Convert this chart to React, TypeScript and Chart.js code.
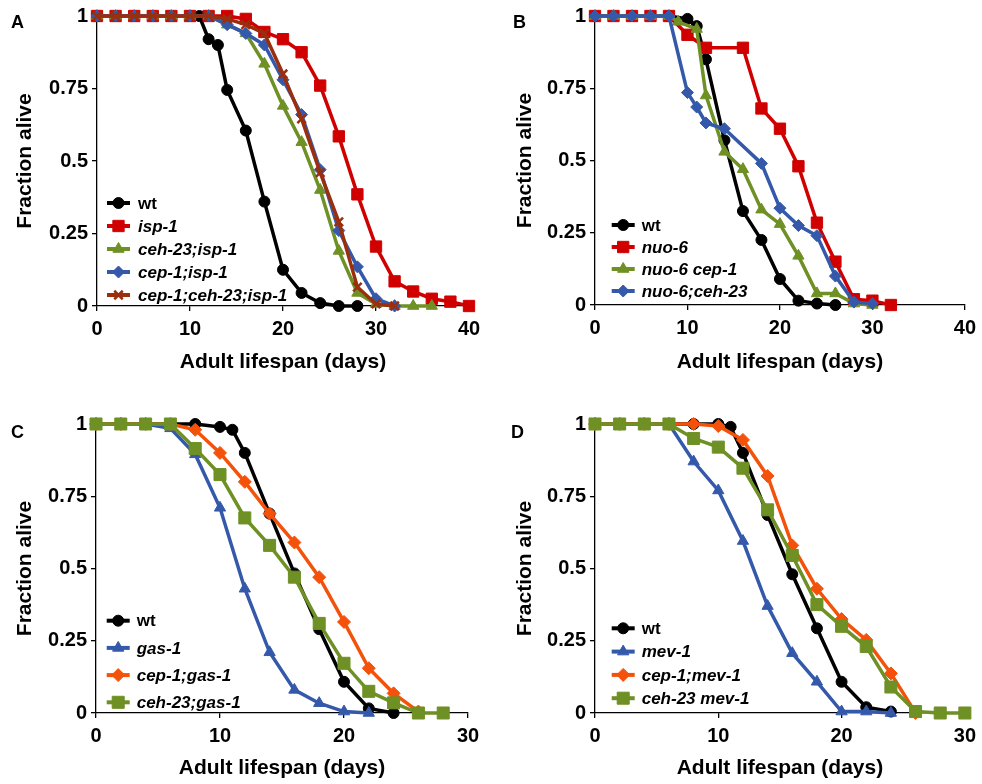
import React, { useEffect, useRef } from 'react';
import { Chart, registerables } from 'chart.js';
import { drawPoint } from 'chart.js/helpers';

Chart.register(...registerables);

// ---------- Panel A ----------
const aWtDays = [0, 2, 4, 6, 8, 10, 11, 12, 13, 14, 16, 18, 20, 22, 24, 26, 28];
const aWt = [1, 1, 1, 1, 1, 1, 1, 0.92, 0.9, 0.745, 0.605, 0.36, 0.125, 0.045, 0.01, 0, 0];
const aIspDays = [0, 2, 4, 6, 8, 10, 12, 14, 16, 18, 20, 22, 24, 26, 28, 30, 32, 34, 36, 38, 40];
const aIsp = [1, 1, 1, 1, 1, 1, 1, 1, 0.99, 0.945, 0.92, 0.875, 0.76, 0.585, 0.385, 0.205, 0.085, 0.05, 0.025, 0.015, 0];
const aCehIspDays = [0, 2, 4, 6, 8, 10, 12, 14, 16, 18, 20, 22, 24, 26, 28, 30, 32, 34, 36];
const aCehIsp = [1, 1, 1, 1, 1, 1, 1, 0.97, 0.94, 0.835, 0.69, 0.565, 0.4, 0.19, 0.045, 0.007, 0, 0, 0];
const aCepIspDays = [0, 2, 4, 6, 8, 10, 12, 14, 16, 18, 20, 22, 24, 26, 28, 30, 32];
const aCepIsp = [1, 1, 1, 1, 1, 1, 1, 0.97, 0.94, 0.9, 0.78, 0.66, 0.47, 0.26, 0.135, 0.025, 0];
const aCepCehIspDays = [0, 2, 4, 6, 8, 10, 12, 14, 16, 18, 20, 22, 24, 26, 28, 30, 32];
const aCepCehIsp = [1, 1, 1, 1, 1, 1, 1, 0.99, 0.97, 0.94, 0.8, 0.645, 0.46, 0.29, 0.065, 0.007, 0];

// ---------- Panel B ----------
const bWtDays = [0, 2, 4, 6, 8, 10, 11, 12, 14, 16, 18, 20, 22, 24, 26];
const bWt = [1, 1, 1, 1, 1, 0.99, 0.965, 0.85, 0.57, 0.325, 0.225, 0.09, 0.015, 0.005, 0];
const bNuoDays = [0, 2, 4, 6, 8, 10, 12, 16, 18, 20, 22, 24, 26, 28, 30, 32];
const bNuo = [1, 1, 1, 1, 1, 0.935, 0.89, 0.89, 0.68, 0.61, 0.48, 0.285, 0.15, 0.02, 0.015, 0];
const bNuoCepDays = [0, 2, 4, 6, 8, 9, 11, 12, 14, 16, 18, 20, 22, 24, 26, 28, 30];
const bNuoCep = [1, 1, 1, 1, 1, 0.98, 0.955, 0.725, 0.53, 0.47, 0.33, 0.28, 0.17, 0.04, 0.04, 0.005, 0];
const bNuoCehDays = [0, 2, 4, 6, 8, 10, 11, 12, 14, 18, 20, 22, 24, 26, 28, 30];
const bNuoCeh = [1, 1, 1, 1, 1, 0.735, 0.685, 0.63, 0.61, 0.49, 0.335, 0.275, 0.24, 0.1, 0.01, 0.005];

// ---------- Panel C ----------
const cWtDays = [0, 2, 4, 6, 8, 10, 11, 12, 14, 16, 18, 20, 22, 24];
const cWt = [1, 1, 1, 1, 1, 0.99, 0.98, 0.9, 0.69, 0.483, 0.29, 0.108, 0.016, 0];
const cGasDays = [0, 2, 4, 6, 8, 10, 12, 14, 16, 18, 20, 22];
const cGas = [1, 1, 1, 0.985, 0.895, 0.71, 0.43, 0.21, 0.08, 0.034, 0.005, 0];
const cCepGasDays = [0, 2, 4, 6, 8, 10, 12, 14, 16, 18, 20, 22, 24, 26];
const cCepGas = [1, 1, 1, 1, 0.98, 0.9, 0.8, 0.69, 0.59, 0.47, 0.315, 0.155, 0.068, 0.005];
const cCehGasDays = [0, 2, 4, 6, 8, 10, 12, 14, 16, 18, 20, 22, 24, 26, 28];
const cCehGas = [1, 1, 1, 1, 0.915, 0.825, 0.675, 0.58, 0.47, 0.31, 0.172, 0.075, 0.035, 0, 0];

// ---------- Panel D ----------
const dWtDays = [0, 2, 4, 6, 8, 10, 11, 12, 14, 16, 18, 20, 22, 24];
const dWt = [1, 1, 1, 1, 1, 1, 0.99, 0.9, 0.685, 0.48, 0.293, 0.108, 0.02, 0.005];
const dMevDays = [0, 2, 4, 6, 8, 10, 12, 14, 16, 18, 20, 22, 24];
const dMev = [1, 1, 1, 1, 0.87, 0.77, 0.595, 0.37, 0.207, 0.108, 0.005, 0.005, 0];
const dCepMevDays = [0, 2, 4, 6, 8, 10, 12, 14, 16, 18, 20, 22, 24, 26];
const dCepMev = [1, 1, 1, 1, 1, 0.993, 0.945, 0.82, 0.58, 0.43, 0.325, 0.253, 0.137, 0];
const dCehMevDays = [0, 2, 4, 6, 8, 10, 12, 14, 16, 18, 20, 22, 24, 26, 28, 30];
const dCehMev = [1, 1, 1, 1, 0.95, 0.92, 0.847, 0.703, 0.545, 0.375, 0.3, 0.23, 0.09, 0.005, 0, 0];

const yTickLabels = ['0', '0.25', '0.5', '0.75', '1'];
const xTitle = 'Adult lifespan (days)';
const yTitle = 'Fraction alive';

const FONT = "'Liberation Sans', Arial, Helvetica, sans-serif";

const BLACK = '#000000';
const RED = '#D00000';
const GREEN = '#6E9024';
const BLUE = '#3559AA';
const BROWN = '#9A2F0F';
const ORANGE = '#F4520A';

type Series = {
  label: string;
  days: number[];
  values: number[];
  color: string;
  style: string;
  radius: number;
  bw?: number;
  italic: boolean;
};

type PanelCfg = {
  letter: string;
  left: number;
  top: number;
  xMax: number;
  padTop: number;
  padRight: number;
  yW: number;
  xH: number;
  xTitlePad: number;
  yTitlePad: number;
  legX: number;
  legTextX: number;
  legY0: number;
  legDy: number;
  letterX: number;
  letterY: number;
  series: Series[];
};

const panels: PanelCfg[] = [
  {
    letter: 'A', left: 0, top: 0, xMax: 40, padTop: 15, padRight: 22, yW: 97, xH: 86,
    xTitlePad: 17.4, yTitlePad: 12.4, legX: 10, legTextX: 41, legY0: 203, legDy: 23,
    letterX: 11, letterY: 12,
    series: [
      { label: 'wt', days: aWtDays, values: aWt, color: BLACK, style: 'circle', radius: 5.5, italic: false },
      { label: 'isp-1', days: aIspDays, values: aIsp, color: RED, style: 'rect', radius: 8, italic: true },
      { label: 'ceh-23;isp-1', days: aCehIspDays, values: aCehIsp, color: GREEN, style: 'triangle', radius: 6.5, italic: true },
      { label: 'cep-1;isp-1', days: aCepIspDays, values: aCepIsp, color: BLUE, style: 'rectRot', radius: 6, italic: true },
      { label: 'cep-1;ceh-23;isp-1', days: aCepCehIspDays, values: aCepCehIsp, color: BROWN, style: 'crossRot', radius: 6, bw: 2.5, italic: true },
    ],
  },
  {
    letter: 'B', left: 491, top: 0, xMax: 40, padTop: 15, padRight: 16, yW: 104, xH: 87,
    xTitlePad: 17.4, yTitlePad: 21.4, legX: 16.7, legTextX: 46.7, legY0: 225, legDy: 22,
    letterX: 22, letterY: 12,
    series: [
      { label: 'wt', days: bWtDays, values: bWt, color: BLACK, style: 'circle', radius: 5.5, italic: false },
      { label: 'nuo-6', days: bNuoDays, values: bNuo, color: RED, style: 'rect', radius: 8, italic: true },
      { label: 'nuo-6 cep-1', days: bNuoCepDays, values: bNuoCep, color: GREEN, style: 'triangle', radius: 6.5, italic: true },
      { label: 'nuo-6;ceh-23', days: bNuoCehDays, values: bNuoCeh, color: BLUE, style: 'rectRot', radius: 6, italic: true },
    ],
  },
  {
    letter: 'C', left: 0, top: 392, xMax: 30, padTop: 32, padRight: 23, yW: 96, xH: 71,
    xTitlePad: 3.4, yTitlePad: 12.4, legX: 10.7, legTextX: 40.7, legY0: 228.7, legDy: 27.2,
    letterX: 11, letterY: 30,
    series: [
      { label: 'wt', days: cWtDays, values: cWt, color: BLACK, style: 'circle', radius: 5.5, italic: false },
      { label: 'gas-1', days: cGasDays, values: cGas, color: BLUE, style: 'triangle', radius: 6.5, italic: true },
      { label: 'cep-1;gas-1', days: cCepGasDays, values: cCepGas, color: ORANGE, style: 'rectRot', radius: 6.5, italic: true },
      { label: 'ceh-23;gas-1', days: cCehGasDays, values: cCehGas, color: GREEN, style: 'rect', radius: 8.5, italic: true },
    ],
  },
  {
    letter: 'D', left: 491, top: 392, xMax: 30, padTop: 32, padRight: 17, yW: 104, xH: 71,
    xTitlePad: 3.4, yTitlePad: 21.4, legX: 16.7, legTextX: 46.7, legY0: 236.3, legDy: 23.3,
    letterX: 20, letterY: 30,
    series: [
      { label: 'wt', days: dWtDays, values: dWt, color: BLACK, style: 'circle', radius: 5.5, italic: false },
      { label: 'mev-1', days: dMevDays, values: dMev, color: BLUE, style: 'triangle', radius: 6.5, italic: true },
      { label: 'cep-1;mev-1', days: dCepMevDays, values: dCepMev, color: ORANGE, style: 'rectRot', radius: 6.5, italic: true },
      { label: 'ceh-23 mev-1', days: dCehMevDays, values: dCehMev, color: GREEN, style: 'rect', radius: 8.5, italic: true },
    ],
  },
];

const legendPlugin = {
  id: 'insideLegend',
  afterDraw(chart: any, _args: any, opts: any) {
    const ctx = chart.ctx;
    const area = chart.chartArea;
    const list: Series[] = opts.series;
    list.forEach((s, i) => {
      const y = opts.y0 + i * opts.dy;
      const x0 = area.left + opts.lineX;
      const x1 = x0 + 23;
      ctx.save();
      ctx.strokeStyle = s.color;
      ctx.fillStyle = s.color;
      ctx.lineWidth = 4;
      ctx.lineCap = 'butt';
      ctx.beginPath();
      ctx.moveTo(x0, y);
      ctx.lineTo(x1, y);
      ctx.stroke();
      ctx.lineWidth = s.bw ?? 1;
      drawPoint(ctx, { pointStyle: s.style as any, radius: s.radius, rotation: 0, borderWidth: s.bw ?? 1 } as any, (x0 + x1) / 2, y);
      ctx.fillStyle = '#000';
      ctx.font = `${s.italic ? 'italic ' : ''}bold 17px ${FONT}`;
      ctx.textBaseline = 'middle';
      ctx.textAlign = 'left';
      ctx.fillText(s.label, area.left + opts.textX, y + 1);
      ctx.restore();
    });
  },
};

function Panel({ cfg }: { cfg: PanelCfg }) {
  const ref = useRef<HTMLCanvasElement>(null);
  useEffect(() => {
    const n = cfg.series.length;
    const tickFont = { family: FONT, size: 20, weight: 'bold' as const };
    const titleFont = { family: FONT, size: 21, weight: 'bold' as const };
    const chart = new Chart(ref.current!, {
      type: 'line',
      data: {
        datasets: cfg.series.map((s, i) => ({
          label: s.label,
          data: s.days.map((d, j) => ({ x: d, y: s.values[j] })),
          borderColor: s.color,
          backgroundColor: s.color,
          pointBackgroundColor: s.color,
          pointBorderColor: s.color,
          pointStyle: s.style as any,
          pointRadius: s.radius,
          pointBorderWidth: s.bw ?? 1,
          borderWidth: 3.5,
          tension: 0,
          fill: false,
          clip: false as any,
          order: n - i,
        })),
      },
      options: {
        animation: false,
        responsive: false,
        events: [],
        layout: { padding: { left: 0, top: cfg.padTop, right: cfg.padRight, bottom: 0 } },
        plugins: {
          legend: { display: false },
          tooltip: { enabled: false },
          insideLegend: {
            series: cfg.series,
            lineX: cfg.legX,
            textX: cfg.legTextX,
            y0: cfg.legY0,
            dy: cfg.legDy,
          },
        } as any,
        scales: {
          x: {
            type: 'linear',
            min: 0,
            max: cfg.xMax,
            ticks: { stepSize: 10, font: tickFont, color: '#000', padding: 6, maxRotation: 0 },
            grid: { drawOnChartArea: false, drawTicks: true, tickLength: 5, color: '#000', lineWidth: 1.3 },
            border: { display: true, color: '#000', width: 1.3 },
            title: { display: true, text: xTitle, font: titleFont, color: '#000', padding: { top: 0, bottom: cfg.xTitlePad } },
            afterFit: (s: any) => { s.height = cfg.xH; },
          },
          y: {
            type: 'linear',
            min: 0,
            max: 1,
            ticks: {
              stepSize: 0.25,
              autoSkip: false,
              font: tickFont,
              color: '#000',
              padding: 4,
              callback: (v: any) => {
                const idx = Math.round(Number(v) / 0.25);
                return yTickLabels[idx] ?? String(v);
              },
            },
            grid: { drawOnChartArea: false, drawTicks: true, tickLength: 5, color: '#000', lineWidth: 1.3 },
            border: { display: true, color: '#000', width: 1.3 },
            title: { display: true, text: yTitle, font: titleFont, color: '#000', padding: { top: cfg.yTitlePad, bottom: 0 } },
            afterFit: (s: any) => { s.width = cfg.yW; },
          },
        },
      } as any,
      plugins: [legendPlugin],
    });
    return () => chart.destroy();
  }, [cfg]);
  return (
    <div style={{ position: 'absolute', left: cfg.left, top: cfg.top, width: 491, height: 392 }}>
      <canvas ref={ref} width={491} height={392} style={{ width: 491, height: 392, display: 'block' }} />
      <div
        style={{
          position: 'absolute',
          left: cfg.letterX,
          top: cfg.letterY,
          fontFamily: FONT,
          fontWeight: 'bold',
          fontSize: 18,
          lineHeight: '20px',
          color: '#000',
        }}
      >
        {cfg.letter}
      </div>
    </div>
  );
}

export default function App() {
  return (
    <div style={{ position: 'absolute', left: 0, top: 0, width: 982, height: 784, background: '#fff' }}>
      {panels.map((p) => (
        <Panel key={p.letter} cfg={p} />
      ))}
    </div>
  );
}
